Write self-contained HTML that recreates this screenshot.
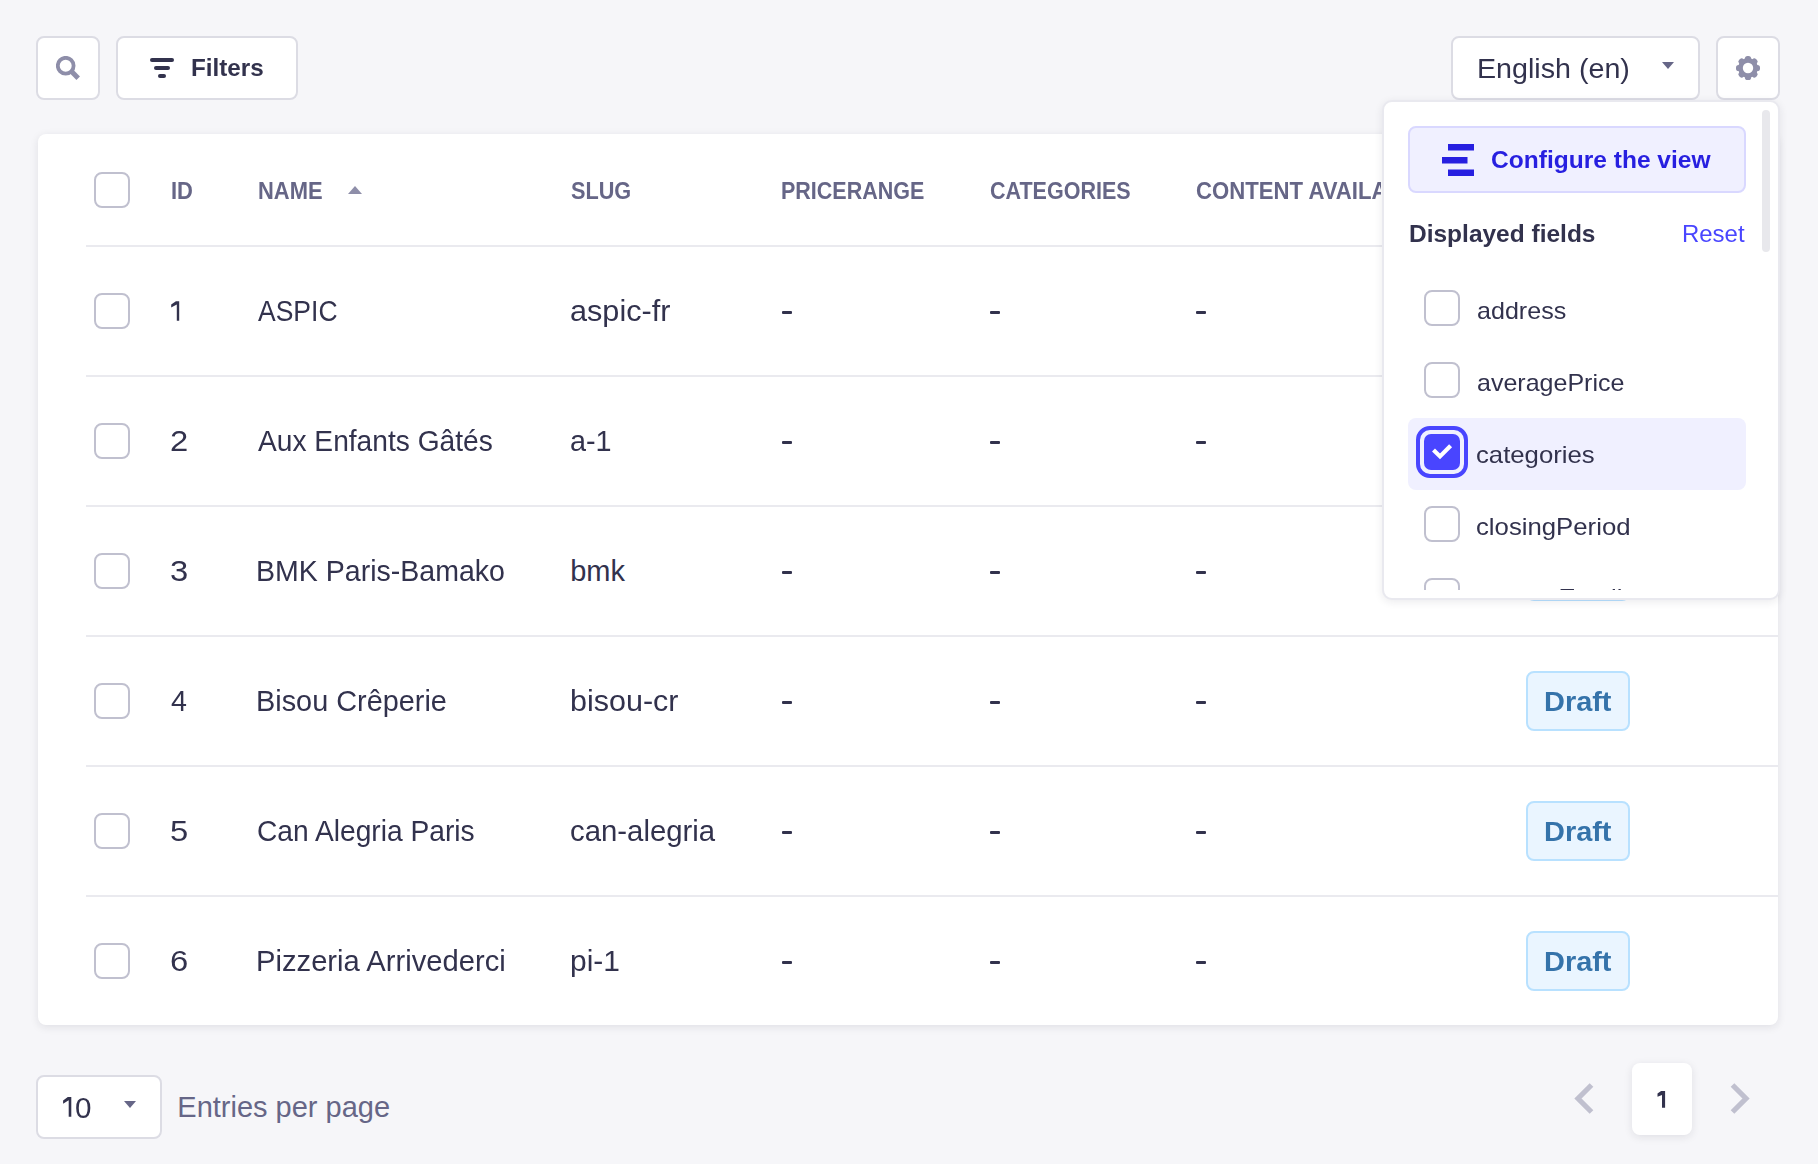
<!DOCTYPE html>
<html><head><meta charset="utf-8"><style>
html,body{margin:0;padding:0;}
body{width:1818px;height:1164px;background:#f6f6f9;position:relative;overflow:hidden;font-family:'Liberation Sans', sans-serif;}
.t{position:absolute;line-height:1;white-space:nowrap;}
</style></head><body>
<div style="position:absolute;left:36px;top:36px;width:64px;height:64px;background:#fff;border:2px solid #dcdce4;border-radius:8px;box-sizing:border-box;"></div>
<div style="position:absolute;left:116px;top:36px;width:182px;height:64px;background:#fff;border:2px solid #dcdce4;border-radius:8px;box-sizing:border-box;"></div>
<div style="position:absolute;left:1451px;top:36px;width:249px;height:64px;background:#fff;border:2px solid #dcdce4;border-radius:8px;box-sizing:border-box;"></div>
<div style="position:absolute;left:1716px;top:36px;width:64px;height:64px;background:#fff;border:2px solid #dcdce4;border-radius:8px;box-sizing:border-box;"></div>
<svg style="position:absolute;left:56px;top:56px" width="24" height="24" viewBox="0 0 24 24"><circle cx="9.7" cy="9.7" r="7.9" fill="none" stroke="#8e8ea9" stroke-width="3.8"/><path d="M14.6 14.6 L22.2 22.2" stroke="#8e8ea9" stroke-width="5"/></svg>
<svg style="position:absolute;left:150px;top:58px" width="24" height="20" viewBox="0 0 24 20"><rect x="0" y="0" width="24" height="4" rx="2" fill="#32324d"/><rect x="4" y="8" width="16" height="4" rx="2" fill="#32324d"/><rect x="8" y="16" width="8" height="4" rx="2" fill="#32324d"/></svg>
<svg style="position:absolute;left:1662px;top:62px" width="12" height="8" viewBox="0 0 12 8"><path d="M0 0 H12 L6 7 Z" fill="#666687"/></svg>
<svg style="position:absolute;left:1736px;top:56px" width="24" height="24" viewBox="0 0 24 24"><defs><mask id="gm"><circle cx="12" cy="12" r="9.9" fill="#fff"/><rect x="8.9" y="0" width="6.2" height="8" rx="2.6" transform="rotate(0 12 12)" fill="#fff"/><rect x="8.9" y="0" width="6.2" height="8" rx="2.6" transform="rotate(45 12 12)" fill="#fff"/><rect x="8.9" y="0" width="6.2" height="8" rx="2.6" transform="rotate(90 12 12)" fill="#fff"/><rect x="8.9" y="0" width="6.2" height="8" rx="2.6" transform="rotate(135 12 12)" fill="#fff"/><rect x="8.9" y="0" width="6.2" height="8" rx="2.6" transform="rotate(180 12 12)" fill="#fff"/><rect x="8.9" y="0" width="6.2" height="8" rx="2.6" transform="rotate(225 12 12)" fill="#fff"/><rect x="8.9" y="0" width="6.2" height="8" rx="2.6" transform="rotate(270 12 12)" fill="#fff"/><rect x="8.9" y="0" width="6.2" height="8" rx="2.6" transform="rotate(315 12 12)" fill="#fff"/><circle cx="12" cy="12" r="5.2" fill="#000"/></mask></defs><rect width="24" height="24" fill="#8e8ea9" mask="url(#gm)"/></svg>
<div style="position:absolute;left:38px;top:134px;width:1740px;height:891px;background:#fff;border-radius:8px;box-shadow:0 2px 8px rgba(33,33,52,0.1);"></div>
<div style="position:absolute;left:86px;top:245px;width:1692px;height:2px;background:#eaeaef;"></div>
<div style="position:absolute;left:86px;top:375px;width:1692px;height:2px;background:#eaeaef;"></div>
<div style="position:absolute;left:86px;top:505px;width:1692px;height:2px;background:#eaeaef;"></div>
<div style="position:absolute;left:86px;top:635px;width:1692px;height:2px;background:#eaeaef;"></div>
<div style="position:absolute;left:86px;top:765px;width:1692px;height:2px;background:#eaeaef;"></div>
<div style="position:absolute;left:86px;top:895px;width:1692px;height:2px;background:#eaeaef;"></div>
<div style="position:absolute;left:94px;top:172px;width:36px;height:36px;border:2px solid #c0c0cf;border-radius:8px;box-sizing:border-box;background:#fff;"></div>
<div style="position:absolute;left:94px;top:293px;width:36px;height:36px;border:2px solid #c0c0cf;border-radius:8px;box-sizing:border-box;background:#fff;"></div>
<div style="position:absolute;left:94px;top:423px;width:36px;height:36px;border:2px solid #c0c0cf;border-radius:8px;box-sizing:border-box;background:#fff;"></div>
<div style="position:absolute;left:94px;top:553px;width:36px;height:36px;border:2px solid #c0c0cf;border-radius:8px;box-sizing:border-box;background:#fff;"></div>
<div style="position:absolute;left:94px;top:683px;width:36px;height:36px;border:2px solid #c0c0cf;border-radius:8px;box-sizing:border-box;background:#fff;"></div>
<div style="position:absolute;left:94px;top:813px;width:36px;height:36px;border:2px solid #c0c0cf;border-radius:8px;box-sizing:border-box;background:#fff;"></div>
<div style="position:absolute;left:94px;top:943px;width:36px;height:36px;border:2px solid #c0c0cf;border-radius:8px;box-sizing:border-box;background:#fff;"></div>
<div style="position:absolute;left:782px;top:311.3px;width:10px;height:2.5px;background:#32324d;border-radius:1px"></div>
<div style="position:absolute;left:990px;top:311.3px;width:10px;height:2.5px;background:#32324d;border-radius:1px"></div>
<div style="position:absolute;left:1196px;top:311.3px;width:10px;height:2.5px;background:#32324d;border-radius:1px"></div>
<div style="position:absolute;left:782px;top:441.3px;width:10px;height:2.5px;background:#32324d;border-radius:1px"></div>
<div style="position:absolute;left:990px;top:441.3px;width:10px;height:2.5px;background:#32324d;border-radius:1px"></div>
<div style="position:absolute;left:1196px;top:441.3px;width:10px;height:2.5px;background:#32324d;border-radius:1px"></div>
<div style="position:absolute;left:782px;top:571.3px;width:10px;height:2.5px;background:#32324d;border-radius:1px"></div>
<div style="position:absolute;left:990px;top:571.3px;width:10px;height:2.5px;background:#32324d;border-radius:1px"></div>
<div style="position:absolute;left:1196px;top:571.3px;width:10px;height:2.5px;background:#32324d;border-radius:1px"></div>
<div style="position:absolute;left:782px;top:701.3px;width:10px;height:2.5px;background:#32324d;border-radius:1px"></div>
<div style="position:absolute;left:990px;top:701.3px;width:10px;height:2.5px;background:#32324d;border-radius:1px"></div>
<div style="position:absolute;left:1196px;top:701.3px;width:10px;height:2.5px;background:#32324d;border-radius:1px"></div>
<div style="position:absolute;left:782px;top:831.3px;width:10px;height:2.5px;background:#32324d;border-radius:1px"></div>
<div style="position:absolute;left:990px;top:831.3px;width:10px;height:2.5px;background:#32324d;border-radius:1px"></div>
<div style="position:absolute;left:1196px;top:831.3px;width:10px;height:2.5px;background:#32324d;border-radius:1px"></div>
<div style="position:absolute;left:782px;top:961.3px;width:10px;height:2.5px;background:#32324d;border-radius:1px"></div>
<div style="position:absolute;left:990px;top:961.3px;width:10px;height:2.5px;background:#32324d;border-radius:1px"></div>
<div style="position:absolute;left:1196px;top:961.3px;width:10px;height:2.5px;background:#32324d;border-radius:1px"></div>
<svg style="position:absolute;left:348px;top:186px" width="14" height="8" viewBox="0 0 14 8"><path d="M7 0 L14 8 H0 Z" fill="#8e8ea9"/></svg>
<div style="position:absolute;left:1526px;top:541px;width:104px;height:60px;background:#eaf5ff;border:2px solid #b8e1ff;border-radius:8px;box-sizing:border-box;"></div>
<div style="position:absolute;left:1526px;top:671px;width:104px;height:60px;background:#eaf5ff;border:2px solid #b8e1ff;border-radius:8px;box-sizing:border-box;"></div>
<div style="position:absolute;left:1526px;top:801px;width:104px;height:60px;background:#eaf5ff;border:2px solid #b8e1ff;border-radius:8px;box-sizing:border-box;"></div>
<div style="position:absolute;left:1526px;top:931px;width:104px;height:60px;background:#eaf5ff;border:2px solid #b8e1ff;border-radius:8px;box-sizing:border-box;"></div>
<div style="position:absolute;left:36px;top:1075px;width:126px;height:64px;background:#fff;border:2px solid #dcdce4;border-radius:8px;box-sizing:border-box;"></div>
<svg style="position:absolute;left:124px;top:1101px" width="12" height="8" viewBox="0 0 12 8"><path d="M0 0 H12 L6 7 Z" fill="#666687"/></svg>
<div style="position:absolute;left:1632px;top:1063px;width:60px;height:72px;background:#fff;border-radius:8px;box-shadow:0 2px 8px rgba(33,33,52,0.1);"></div>
<svg style="position:absolute;left:1572px;top:1081px" width="26" height="36" viewBox="0 0 26 36"><path d="M19.5 4 L6 17.5 L19.5 31" fill="none" stroke="#c0c0cf" stroke-width="5.2"/></svg>
<svg style="position:absolute;left:1726px;top:1081px" width="26" height="36" viewBox="0 0 26 36"><path d="M6.5 4 L20 17.5 L6.5 31" fill="none" stroke="#c0c0cf" stroke-width="5.2"/></svg>
<svg style="position:absolute;left:0;top:0;overflow:visible" width="1" height="1"><path d="M171.2 304.6 L175.9 301.2 L179.2 301.2 L179.2 320.8 L176.8 320.8 L176.8 304.5 L171.2 307.4 Z" fill="#32324d"/></svg>
<svg style="position:absolute;left:0;top:0;overflow:visible" width="1" height="1"><path d="M63.1 1100.5 L67.8 1097.0 L71.3 1097.0 L71.3 1116.8 L68.7 1116.8 L68.7 1100.3 L63.1 1103.7 Z" fill="#32324d"/></svg>
<svg style="position:absolute;left:0;top:0;overflow:visible" width="1" height="1"><path d="M1657.5 1093.6 L1661.1 1091.1 L1665.1 1091.1 L1665.1 1107.8 L1662.0 1107.8 L1662.0 1094.8999999999999 L1657.5 1096.8 Z" fill="#32324d"/></svg>
<div class=t style="left:190.6px;top:56px;font-size:24px;font-weight:700;color:#32324d;transform:scaleX(1.0102);transform-origin:0 0;">Filters</div><div class=t style="left:1477.0px;top:55px;font-size:28px;font-weight:400;color:#32324d;transform:scaleX(1.0234);transform-origin:0 0;">English (en)</div><div class=t style="left:170.6px;top:180px;font-size:23px;font-weight:700;color:#666687;transform:scaleX(0.9537);transform-origin:0 0;">ID</div><div class=t style="left:257.7px;top:180px;font-size:23px;font-weight:700;color:#666687;transform:scaleX(0.9536);transform-origin:0 0;">NAME</div><div class=t style="left:570.8px;top:180px;font-size:23px;font-weight:700;color:#666687;transform:scaleX(0.9429);transform-origin:0 0;">SLUG</div><div class=t style="left:780.7px;top:180px;font-size:23px;font-weight:700;color:#666687;transform:scaleX(0.9348);transform-origin:0 0;">PRICERANGE</div><div class=t style="left:989.7px;top:180px;font-size:23px;font-weight:700;color:#666687;transform:scaleX(0.9352);transform-origin:0 0;">CATEGORIES</div><div class=t style="left:258.3px;top:297px;font-size:29px;font-weight:400;color:#32324d;transform:scaleX(0.9142);transform-origin:0 0;">ASPIC</div><div class=t style="left:570.1px;top:297px;font-size:29px;font-weight:400;color:#32324d;transform:scaleX(1.0570);transform-origin:0 0;">aspic-fr</div><div class=t style="left:169.7px;top:427px;font-size:29px;font-weight:400;color:#32324d;transform:scaleX(1.1286);transform-origin:0 0;">2</div><div class=t style="left:258.3px;top:427px;font-size:29px;font-weight:400;color:#32324d;transform:scaleX(0.9710);transform-origin:0 0;">Aux Enfants Gâtés</div><div class=t style="left:570.2px;top:427px;font-size:29px;font-weight:400;color:#32324d;transform:scaleX(0.9928);transform-origin:0 0;">a-1</div><div class=t style="left:169.7px;top:557px;font-size:29px;font-weight:400;color:#32324d;transform:scaleX(1.1286);transform-origin:0 0;">3</div><div class=t style="left:256.3px;top:557px;font-size:29px;font-weight:400;color:#32324d;transform:scaleX(0.9841);transform-origin:0 0;">BMK Paris-Bamako</div><div class=t style="left:570.2px;top:557px;font-size:29px;font-weight:400;color:#32324d;">bmk</div><div class=t style="left:1544.4px;top:558px;font-size:28px;font-weight:700;color:#3573aa;transform:scaleX(1.0326);transform-origin:0 0;">Draft</div><div class=t style="left:170.8px;top:687px;font-size:29px;font-weight:400;color:#32324d;transform:scaleX(0.9875);transform-origin:0 0;">4</div><div class=t style="left:256.3px;top:687px;font-size:29px;font-weight:400;color:#32324d;transform:scaleX(0.9953);transform-origin:0 0;">Bisou Crêperie</div><div class=t style="left:570.1px;top:687px;font-size:29px;font-weight:400;color:#32324d;transform:scaleX(1.0519);transform-origin:0 0;">bisou-cr</div><div class=t style="left:1544.4px;top:688px;font-size:28px;font-weight:700;color:#3573aa;transform:scaleX(1.0326);transform-origin:0 0;">Draft</div><div class=t style="left:169.7px;top:817px;font-size:29px;font-weight:400;color:#32324d;transform:scaleX(1.1286);transform-origin:0 0;">5</div><div class=t style="left:257.3px;top:817px;font-size:29px;font-weight:400;color:#32324d;transform:scaleX(0.9716);transform-origin:0 0;">Can Alegria Paris</div><div class=t style="left:570.2px;top:817px;font-size:29px;font-weight:400;color:#32324d;transform:scaleX(1.0116);transform-origin:0 0;">can-alegria</div><div class=t style="left:1544.4px;top:818px;font-size:28px;font-weight:700;color:#3573aa;transform:scaleX(1.0326);transform-origin:0 0;">Draft</div><div class=t style="left:169.7px;top:947px;font-size:29px;font-weight:400;color:#32324d;transform:scaleX(1.1286);transform-origin:0 0;">6</div><div class=t style="left:256.3px;top:947px;font-size:29px;font-weight:400;color:#32324d;transform:scaleX(1.0063);transform-origin:0 0;">Pizzeria Arrivederci</div><div class=t style="left:570.2px;top:947px;font-size:29px;font-weight:400;color:#32324d;transform:scaleX(1.0318);transform-origin:0 0;">pi-1</div><div class=t style="left:1544.4px;top:948px;font-size:28px;font-weight:700;color:#3573aa;transform:scaleX(1.0326);transform-origin:0 0;">Draft</div><div class=t style="left:75.1px;top:1094px;font-size:29px;font-weight:400;color:#32324d;transform:scaleX(1.0214);transform-origin:0 0;">0</div><div class=t style="left:177.3px;top:1093px;font-size:29px;font-weight:400;color:#666687;">Entries per page</div>
<div style="position:absolute;left:0;top:0;width:1381px;height:1164px;overflow:hidden;"><div class=t style="left:1196.0px;top:180px;font-size:23px;font-weight:700;color:#666687;transform:scaleX(0.9631);transform-origin:0 0;">CONTENT AVAILABLE IN</div></div>
<div style="position:absolute;left:1382px;top:100px;width:398px;height:500px;background:#fff;border:2px solid #e9e9ef;box-sizing:border-box;border-radius:10px;box-shadow:0 2px 9px rgba(33,33,52,0.09);"></div><div style="position:absolute;left:1762px;top:110px;width:8px;height:142px;background:#e8e8ec;border-radius:4px;"></div><div style="position:absolute;left:1408px;top:126px;width:338px;height:67px;background:#f0f0ff;border:2px solid #d9d8ff;border-radius:8px;box-sizing:border-box;"></div><svg style="position:absolute;left:1442px;top:144px" width="32" height="32" viewBox="0 0 32 32"><rect x="6" y="0" width="26" height="6.5" fill="#271fe0"/><rect x="0" y="13" width="25.5" height="6.5" fill="#271fe0"/><rect x="6" y="25.5" width="26" height="6.5" fill="#271fe0"/></svg><div style="position:absolute;left:1408px;top:418px;width:338px;height:72px;background:#f0f0ff;border-radius:8px;"></div>
<div class=t style="left:1491.4px;top:148px;font-size:24px;font-weight:700;color:#271fe0;transform:scaleX(1.0227);transform-origin:0 0;">Configure the view</div><div class=t style="left:1408.6px;top:222px;font-size:24px;font-weight:700;color:#32324d;transform:scaleX(1.0205);transform-origin:0 0;">Displayed fields</div><div class=t style="left:1681.9px;top:222px;font-size:24px;font-weight:400;color:#4945ff;transform:scaleX(0.9979);transform-origin:0 0;">Reset</div>
<div style="position:absolute;left:0;top:0;width:1818px;height:590px;overflow:hidden;">
<div style="position:absolute;left:1424px;top:290px;width:36px;height:36px;border:2px solid #c0c0cf;border-radius:8px;box-sizing:border-box;background:#fff;"></div><div style="position:absolute;left:1424px;top:362px;width:36px;height:36px;border:2px solid #c0c0cf;border-radius:8px;box-sizing:border-box;background:#fff;"></div><div style="position:absolute;left:1416px;top:426px;width:52px;height:52px;border:4px solid #4945ff;border-radius:14px;box-sizing:border-box;"></div><div style="position:absolute;left:1424px;top:434px;width:36px;height:36px;background:#4945ff;border-radius:7px;"></div><svg style="position:absolute;left:1424px;top:434px" width="36" height="36" viewBox="0 0 36 36"><path d="M9.5 16 L16 22.4 L26.6 11.8" fill="none" stroke="#fff" stroke-width="4.2"/></svg><div style="position:absolute;left:1424px;top:506px;width:36px;height:36px;border:2px solid #c0c0cf;border-radius:8px;box-sizing:border-box;background:#fff;"></div><div style="position:absolute;left:1424px;top:578px;width:36px;height:36px;border:2px solid #c0c0cf;border-radius:8px;box-sizing:border-box;background:#fff;"></div>
<div class=t style="left:1476.5px;top:299px;font-size:24px;font-weight:400;color:#32324d;transform:scaleX(1.0452);transform-origin:0 0;">address</div><div class=t style="left:1476.5px;top:371px;font-size:24px;font-weight:400;color:#32324d;transform:scaleX(1.0424);transform-origin:0 0;">averagePrice</div><div class=t style="left:1476.4px;top:443px;font-size:24px;font-weight:400;color:#32324d;transform:scaleX(1.0717);transform-origin:0 0;">categories</div><div class=t style="left:1476.4px;top:515px;font-size:24px;font-weight:400;color:#32324d;transform:scaleX(1.0724);transform-origin:0 0;">closingPeriod</div><div class=t style="left:1476.4px;top:586px;font-size:24px;font-weight:400;color:#32324d;transform:scaleX(1.0662);transform-origin:0 0;">contactEmail</div>
</div>
</body></html>
